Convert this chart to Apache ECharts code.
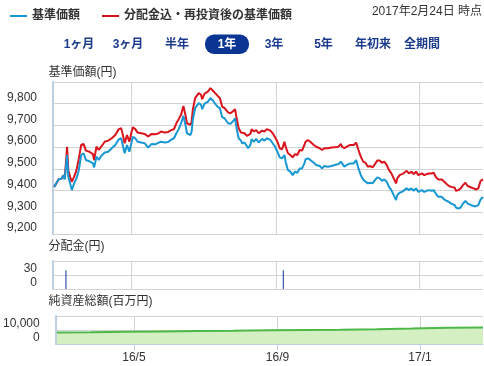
<!DOCTYPE html>
<html><head><meta charset="utf-8">
<script src="https://cdn.jsdelivr.net/npm/echarts@6/dist/echarts.min.js"></script>
<style>html,body{margin:0;padding:0;background:#fff}#c{width:484px;height:366px}</style>
</head><body><div id="c"></div>
<script>
const dates = ['2016-02-25','2016-02-29','2016-03-02','2016-03-04','2016-03-05','2016-03-07','2016-03-08','2016-03-10','2016-03-11','2016-03-13',
'2016-03-15','2016-03-17','2016-03-19','2016-03-21','2016-03-23','2016-03-26','2016-03-29','2016-03-30','2016-04-01','2016-04-03',
'2016-04-05','2016-04-08','2016-04-11','2016-04-14','2016-04-17','2016-04-20','2016-04-22','2016-04-23','2016-04-25','2016-04-27',
'2016-04-29','2016-05-01','2016-05-02','2016-05-04','2016-05-06','2016-05-09','2016-05-12','2016-05-15','2016-05-18','2016-05-21',
'2016-05-24','2016-05-26','2016-05-29','2016-06-01','2016-06-04','2016-06-06','2016-06-08','2016-06-10','2016-06-12','2016-06-14',
'2016-06-16','2016-06-17','2016-06-20','2016-06-21','2016-06-22','2016-06-24','2016-06-27','2016-06-29','2016-06-30','2016-07-02',
'2016-07-05','2016-07-07','2016-07-09','2016-07-11','2016-07-13','2016-07-15','2016-07-17','2016-07-19','2016-07-22','2016-07-24',
'2016-07-26','2016-07-28','2016-07-29','2016-07-31','2016-08-02','2016-08-03','2016-08-05','2016-08-07','2016-08-08','2016-08-10',
'2016-08-11','2016-08-13','2016-08-15','2016-08-17','2016-08-20','2016-08-22','2016-08-24','2016-08-27','2016-08-29','2016-08-31',
'2016-09-02','2016-09-04','2016-09-06','2016-09-08','2016-09-09','2016-09-11','2016-09-13','2016-09-15','2016-09-17','2016-09-19',
'2016-09-21','2016-09-23','2016-09-25','2016-09-26','2016-09-28','2016-09-30','2016-10-03','2016-10-05','2016-10-08','2016-10-10',
'2016-10-12','2016-10-15','2016-10-18','2016-10-21','2016-10-24','2016-10-26','2016-10-27','2016-10-29','2016-10-31','2016-11-03',
'2016-11-04','2016-11-06','2016-11-08','2016-11-10','2016-11-12','2016-11-14','2016-11-16','2016-11-18','2016-11-20','2016-11-22',
'2016-11-24','2016-11-26','2016-11-28','2016-11-30','2016-12-02','2016-12-04','2016-12-06','2016-12-08','2016-12-10','2016-12-12',
'2016-12-13','2016-12-15','2016-12-17','2016-12-19','2016-12-21','2016-12-23','2016-12-25','2016-12-27','2016-12-29','2016-12-31',
'2017-01-03','2017-01-05','2017-01-07','2017-01-09','2017-01-11','2017-01-13','2017-01-15','2017-01-17','2017-01-20','2017-01-22',
'2017-01-24','2017-01-26','2017-01-28','2017-01-31','2017-02-01','2017-02-03','2017-02-05','2017-02-07','2017-02-09','2017-02-11',
'2017-02-14','2017-02-16','2017-02-18','2017-02-20','2017-02-22','2017-02-24'];

const navBase = [9417,9453,9453,9471,9451,9564,9464,9425,9402,9433,
9456,9494,9564,9572,9541,9535,9525,9507,9556,9541,
9559,9575,9579,9595,9610,9636,9641,9618,9572,9610,
9579,9625,9648,9641,9625,9621,9618,9598,9615,9613,
9621,9625,9621,9624,9636,9641,9664,9683,9710,9744,
9695,9664,9656,9672,9726,9780,9803,9795,9775,9800,
9810,9826,9815,9800,9787,9780,9738,9733,9710,9707,
9718,9733,9695,9641,9630,9618,9621,9605,9595,9610,
9636,9625,9638,9621,9638,9630,9641,9633,9618,9602,
9579,9553,9548,9564,9533,9494,9487,9471,9487,9482,
9502,9502,9525,9544,9548,9541,9528,9518,9513,9502,
9513,9510,9513,9518,9522,9533,9525,9510,9518,9525,
9533,9525,9541,9502,9471,9451,9441,9433,9436,9433,
9448,9461,9456,9445,9451,9441,9417,9402,9379,9356,
9379,9390,9394,9402,9410,9402,9410,9399,9410,9394,
9402,9394,9399,9402,9399,9402,9384,9371,9371,9359,
9353,9348,9340,9333,9322,9317,9322,9340,9353,9340,
9333,9328,9328,9333,9359,9371];

const navReinvest = [9417,9453,9453,9471,9455,9602,9494,9456,9440,9464,
9494,9548,9610,9615,9584,9579,9568,9541,9602,9587,
9602,9625,9630,9641,9656,9683,9687,9667,9618,9656,
9625,9672,9692,9683,9667,9664,9661,9649,9661,9659,
9664,9672,9667,9670,9679,9683,9710,9729,9749,9790,
9741,9710,9703,9718,9772,9826,9849,9841,9821,9846,
9857,9872,9861,9849,9837,9826,9787,9780,9760,9756,
9764,9775,9741,9687,9667,9661,9664,9652,9646,9661,
9683,9672,9679,9664,9676,9672,9683,9676,9664,9646,
9625,9595,9590,9625,9602,9572,9564,9553,9568,9564,
9587,9584,9610,9625,9633,9625,9610,9602,9595,9587,
9595,9595,9598,9599,9602,9615,9602,9595,9602,9610,
9618,9610,9621,9587,9556,9533,9528,9510,9513,9507,
9522,9538,9538,9528,9533,9518,9494,9479,9456,9433,
9456,9471,9476,9482,9491,9479,9487,9476,9487,9471,
9479,9471,9476,9479,9479,9482,9461,9451,9451,9441,
9430,9421,9417,9413,9399,9402,9410,9425,9436,9421,
9414,9410,9405,9410,9445,9451];

const distDates = ['2016-03-06','2016-09-07'];
const distValues = [40, 40];

const assetDates = ['2016-02-25','2016-03-25','2016-04-25','2016-05-25','2016-06-25','2016-07-25','2016-08-25','2016-09-25','2016-10-25','2016-11-25','2016-12-25','2017-01-25','2017-02-24'];
const assetValues = [8200,8400,8700,9000,9300,9500,9800,10000,10200,10500,11000,11600,11700];

const tickDates = ['2016-05-01','2016-09-01','2017-01-01'];
const tickLabels = ['16/5','16/9','17/1'];

const seriesNames = ['基準価額','分配金込・再投資後の基準価額'];
const panelTitles = ['基準価額(円)','分配金(円)','純資産総額(百万円)'];
const rangeButtons = ['1ヶ月','3ヶ月','半年','1年','3年','5年','年初来','全期間'];
const activeRange = '1年';
const asOfText = '2017年2月24日 時点';

function ts(s){const p=s.split('-').map(Number);return Date.UTC(p[0],p[1]-1,p[2]);}
function fmt(v){return String(v).replace(/\B(?=(\d{3})+(?!\d))/g, ',');}

const FONT = '"Liberation Sans","Noto Sans CJK JP",sans-serif';
const BLUE = '#1797d3', RED = '#d9141c', NAVY = '#0b3592', AXIS = '#bccfe3', GRID = '#d3d3d3';
const xMin = ts('2016-02-24'), xMax = ts('2017-02-24');
const tickTs = tickDates.map(ts);

function xAx(i, show){
  return {type:'value', gridIndex:i, min:xMin, max:xMax,
    axisLine:{show:show, onZero:false, lineStyle:{color:AXIS, width:1}},
    axisTick:{show:show, customValues:tickTs, length:6, lineStyle:{color:AXIS}},
    axisLabel:{show:show, customValues:tickTs, formatter:v=>{const k=tickTs.indexOf(v);return k>=0?tickLabels[k]:'';}, color:'#333', fontSize:12, margin:8, fontFamily:FONT},
    splitLine:{show:false}
  };
}
function yAx(i, min, max, interval){
  return {type:'value', gridIndex:i, min:min, max:max, interval:interval,
    axisLine:{show:true, lineStyle:{color:AXIS, width:2}},
    axisTick:{show:false},
    axisLabel:{formatter:v=>v>=max?'':fmt(v), verticalAlign:'bottom', margin:16, color:'#333', fontSize:12, fontFamily:FONT},
    splitLine:{show:true, lineStyle:{color:GRID, width:1}}
  };
}
const vGrid = {silent:true, symbol:'none', animation:false, z:0, zlevel:0, label:{show:false},
  lineStyle:{color:GRID, width:1, type:'solid'}, emphasis:{disabled:true},
  data:tickTs.map(t=>({xAxis:t}))};

const btnCenters = [79,128,177,227,274,323.5,373,422];
const graphics = [];
graphics.push({type:'text', right:2, top:6, style:{text:asOfText, font:'12px '+FONT, fill:'#333'}});
rangeButtons.forEach((b,i)=>{
  const active = b===activeRange;
  if(active) graphics.push({type:'rect', shape:{x:btnCenters[i]-22, y:34.5, width:44, height:19.5, r:9}, style:{fill:NAVY}});
  graphics.push({type:'text', x:btnCenters[i], y:44.5, style:{text:b, font:'bold 12px '+FONT, fill:active?'#fff':'#1b3a8c', align:'center', verticalAlign:'middle'}});
});
const titleY = [72.5, 247, 301.7];
panelTitles.forEach((t,i)=>{
  graphics.push({type:'text', x:48.5, y:titleY[i], style:{text:t, font:'12px '+FONT, fill:'#333', verticalAlign:'middle'}});
});

const chart = echarts.init(document.getElementById('c'), null, {renderer:'canvas'});
chart.setOption({
  animation:false,
  backgroundColor:'#fff',
  legend:{left:5, top:5, icon:'rect', itemWidth:17, itemHeight:2, itemGap:22, data:seriesNames,
    textStyle:{fontSize:12, fontWeight:'bold', color:'#333', fontFamily:FONT}},
  graphic:graphics,
  grid:[
    {left:53, top:82, width:430, height:152},
    {left:53, top:261, width:430, height:28},
    {left:53, top:316, width:430, height:28}
  ],
  xAxis:[xAx(0,false), xAx(1,false), xAx(2,true)],
  yAxis:[yAx(0,9200,9900,100), yAx(1,0,60,30), yAx(2,0,20000,10000)],
  series:[
    {type:'line', xAxisIndex:0, yAxisIndex:0, data:[], z:0, markLine:vGrid},
    {name:seriesNames[1], type:'line', xAxisIndex:0, yAxisIndex:0, showSymbol:false,
      data:dates.map((d,i)=>[ts(d), navReinvest[i]]), lineStyle:{color:RED, width:2}, itemStyle:{color:RED}, z:2},
    {name:seriesNames[0], type:'line', xAxisIndex:0, yAxisIndex:0, showSymbol:false,
      data:dates.map((d,i)=>[ts(d), navBase[i]]), lineStyle:{color:BLUE, width:2}, itemStyle:{color:BLUE}, z:3},
    {type:'line', xAxisIndex:1, yAxisIndex:1, data:[], z:0, markLine:vGrid},
    {type:'bar', xAxisIndex:1, yAxisIndex:1, barWidth:1, z:2,
      data:distDates.map((d,i)=>[ts(d), distValues[i]]), itemStyle:{color:NAVY}},
    {type:'line', xAxisIndex:2, yAxisIndex:2, data:[], z:0, markLine:vGrid},
    {type:'line', xAxisIndex:2, yAxisIndex:2, showSymbol:false, z:3,
      data:assetDates.map((d,i)=>[ts(d), assetValues[i]]), lineStyle:{color:'#4cb848', width:2},
      itemStyle:{color:'#4cb848'}, areaStyle:{color:'#d4efc2', opacity:1}}
  ]
});
</script></body></html>
